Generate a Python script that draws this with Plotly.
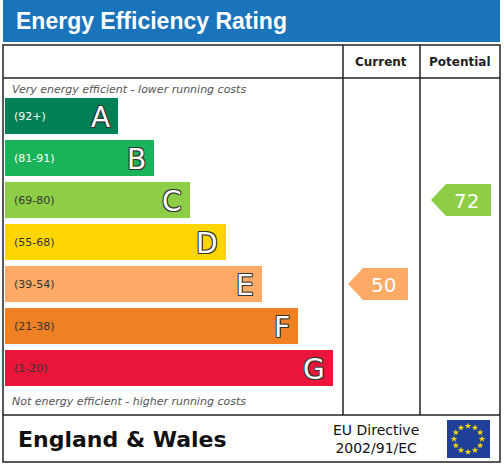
import math
import plotly.graph_objects as go

bands = ["A", "B", "C", "D", "E", "F", "G"]
ranges = ["(92+)", "(81-91)", "(69-80)", "(55-68)", "(39-54)", "(21-38)", "(1-20)"]
lower = [92, 81, 69, 55, 39, 21, 1]
bar_len = [113, 149, 185, 221, 257, 293, 328]
colors = ["#008054", "#19b459", "#8dce46", "#ffd500", "#fcaa65", "#ef8023", "#e9153b"]
current = 50
potential = 72

y0, step, h = 116, 42, 36
yc = [y0 + i * step for i in range(len(bands))]


def band_of(v):
    for i, lo in enumerate(lower):
        if v >= lo:
            return i
    return len(lower) - 1


fig = go.Figure()
fig.add_trace(go.Bar(
    y=yc, x=bar_len, base=5, orientation="h", width=h,
    marker=dict(color=colors, line=dict(width=0)), hoverinfo="skip",
))

ann = []
for i, b in enumerate(bands):
    ann.append(dict(x=5 + bar_len[i] - 6, y=yc[i] + 1, text=b, xanchor="right", showarrow=False,
                    font=dict(size=28, color="white", family="DejaVu Sans",
                              shadow="1px 1px 0 #333, -1px -1px 0 #333, 1px -1px 0 #333, -1px 1px 0 #333")))
    ann.append(dict(x=12, y=yc[i], text=ranges[i], xanchor="left", showarrow=False,
                    font=dict(size=11, color="white" if i < 2 else "#333", family="DejaVu Sans")))


def arrow(x_left, value, color):
    i = band_of(value)
    cy = yc[i]
    xs = [x_left, x_left + 15, x_left + 60, x_left + 60, x_left + 15, x_left]
    ys = [cy, cy - 16, cy - 16, cy + 16, cy + 16, cy]
    fig.add_trace(go.Scatter(x=xs, y=ys, fill="toself", fillcolor=color, mode="lines",
                             line=dict(width=0), hoverinfo="skip"))
    ann.append(dict(x=x_left + 35, y=cy + 1, text=str(value), showarrow=False,
                    font=dict(size=20, color="white", family="DejaVu Sans")))


arrow(348, current, colors[band_of(current)])
arrow(431, potential, colors[band_of(potential)])

# EU flag stars
sx = [468 + 14 * math.cos(2 * math.pi * k / 12) for k in range(12)]
sy = [439 + 13 * math.sin(2 * math.pi * k / 12) for k in range(12)]
fig.add_trace(go.Scatter(x=sx, y=sy, mode="markers",
                         marker=dict(symbol="star", size=5, color="#ffdd00"), hoverinfo="skip"))

line = dict(color="#222", width=1.5)
shapes = [
    dict(type="rect", x0=3, y0=0, x1=500, y1=42, fillcolor="#1a74bb", line=dict(width=0), layer="below"),
    dict(type="rect", x0=3, y0=45, x1=500, y1=462, line=line),
    dict(type="line", x0=3, y0=78, x1=500, y1=78, line=line),
    dict(type="line", x0=3, y0=415, x1=500, y1=415, line=line),
    dict(type="line", x0=343, y0=45, x1=343, y1=415, line=line),
    dict(type="line", x0=420, y0=45, x1=420, y1=415, line=line),
    dict(type="rect", x0=447, y0=420, x1=490, y1=458, fillcolor="#1f3f99", line=dict(width=0), layer="below"),
]

ann += [
    dict(x=14, y=21, text="<b>Energy Efficiency Rating</b>", xanchor="left", showarrow=False,
         font=dict(size=23, color="white", family="Liberation Sans")),
    dict(x=381, y=62, text="<b>Current</b>", showarrow=False, font=dict(size=12, color="#222", family="DejaVu Sans")),
    dict(x=460, y=62, text="<b>Potential</b>", showarrow=False, font=dict(size=12, color="#222", family="DejaVu Sans")),
    dict(x=10, y=89, text="<i>Very energy efficient - lower running costs</i>", xanchor="left", showarrow=False,
         font=dict(size=11, color="#555", family="DejaVu Sans")),
    dict(x=10, y=401, text="<i>Not energy efficient - higher running costs</i>", xanchor="left", showarrow=False,
         font=dict(size=11, color="#555", family="DejaVu Sans")),
    dict(x=16, y=439, text="<b>England & Wales</b>", xanchor="left", showarrow=False,
         font=dict(size=22, color="#111", family="DejaVu Sans")),
    dict(x=376, y=439, text="EU Directive<br>2002/91/EC", showarrow=False, align="center",
         font=dict(size=14, color="#111", family="DejaVu Sans")),
]

fig.update_layout(
    width=504, height=466, margin=dict(l=0, r=0, t=0, b=0),
    paper_bgcolor="white", plot_bgcolor="white", showlegend=False,
    xaxis=dict(range=[0, 504], visible=False, fixedrange=True),
    yaxis=dict(range=[466, 0], visible=False, fixedrange=True),
    shapes=shapes, annotations=ann,
)
fig.write_html("out.html", config={"displayModeBar": False},
               post_script="document.body.style.margin='0';")
